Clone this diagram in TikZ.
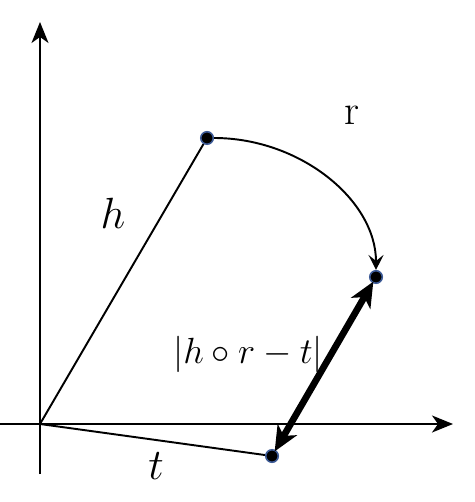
\documentclass[tikz,border=0pt]{standalone}
\usepackage{amsmath}
\usepackage{amssymb}
\usetikzlibrary{arrows.meta}

\tikzset{
  dot/.style={circle, fill=black, draw={rgb,255:red,60;green,90;blue,150}, line width=0.9pt, minimum size=0.25cm, inner sep=0pt},
  lbl/.style={font=\fontsize{24}{28}\selectfont, inner sep=0pt},
  dlbl/.style={font=\fontsize{20}{24}\selectfont, inner sep=0pt}
}

\begin{document}
\begin{tikzpicture}[x=0.02cm, y=-0.02cm, line width=1.1pt]
                \useasboundingbox (0,0) rectangle (474,502);
                \coordinate (o) at (40,424);
                \coordinate (xl) at (0,424);
                \coordinate (xr) at (453,424);
                \coordinate (yd) at (40,474);
                \coordinate (yu) at (40,22);
                \draw[-{Stealth[length=0.42cm, width=0.34cm, inset=0.12cm]}] (xl) -- (xr);
                \draw[-{Stealth[length=0.42cm, width=0.34cm, inset=0.12cm]}] (yd) -- (yu);
                \node[dot] (h) at (207,138) {};
                \node[dot] (hr) at (376,277) {};
                \node[dot] (t) at (272,456) {};
                \draw (o) -- (h);
                \draw (o) -- (t);
                \draw[-{Stealth[length=0.3cm, width=0.3cm, inset=0.12cm]}] (h) .. controls (300,138) and (376,200) .. (hr);
                \draw[line width=3.8pt, {Stealth[length=0.5cm, width=0.44cm, inset=0.14cm]}-{Stealth[length=0.5cm, width=0.44cm, inset=0.14cm]}, shorten <=-1pt, shorten >=-1pt] (t) -- (hr);
                \node[lbl] (rl) at (352,115) {r};
                \node[lbl] (hl) at (113,213) {$h$};
                \node[lbl] (tl) at (156,466) {$t$};
                \node[dlbl] (dl) at (248,354) {$|h\circ r-t|$};
            \end{tikzpicture}
\end{document}
